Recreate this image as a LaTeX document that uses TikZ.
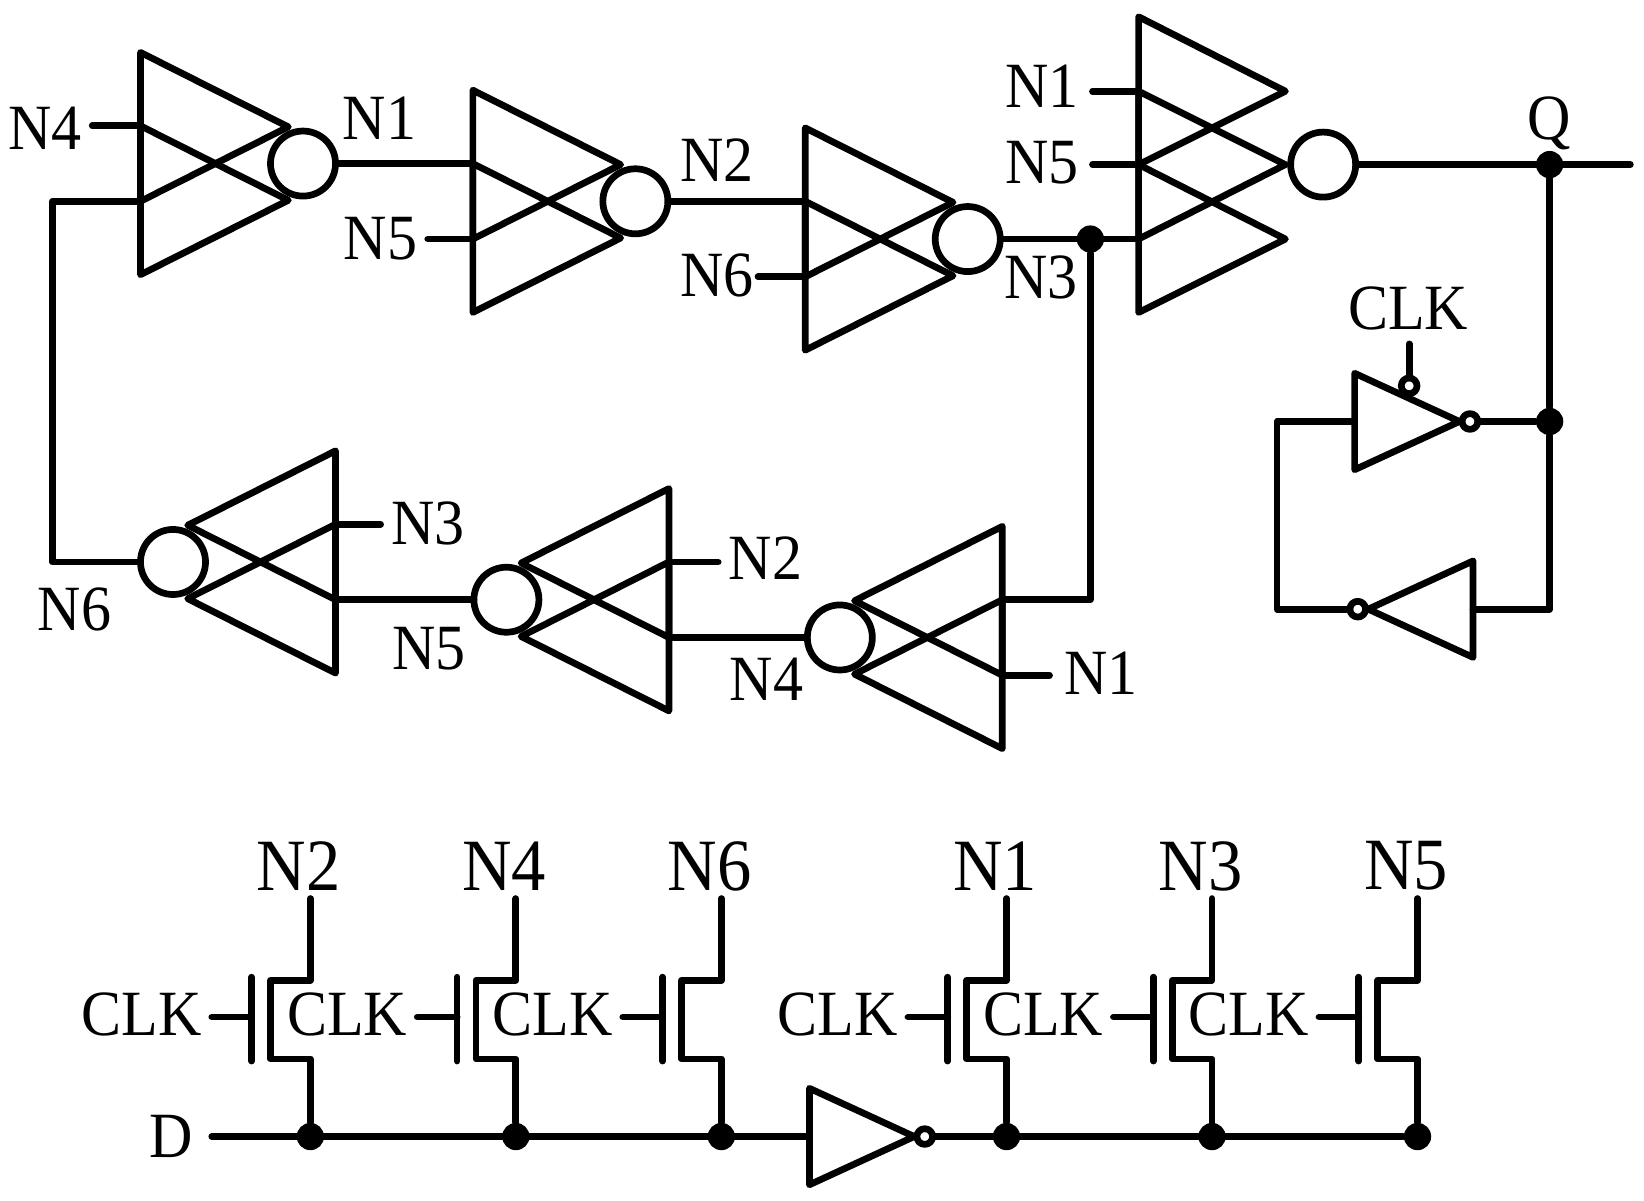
\documentclass[tikz,border=0pt]{standalone}
\usepackage{fontspec}
\setmainfont[FakeStretch=0.93]{Liberation Serif}
\begin{document}
\begin{tikzpicture}[x=0.01cm, y=-0.01cm, line join=round, line cap=round,
		wire/.style={line width=0.064cm},
		lab/.style={font=\fontsize{17.5}{20}\selectfont, inner sep=0.1cm, outer sep=0pt},
		biglab/.style={font=\fontsize{20}{22}\selectfont, inner sep=0pt, outer sep=0pt},
		bigbub/.style={circle, draw, line width=0.064cm, inner sep=0pt, minimum size=0.62cm, outer sep=0pt},
		smallbub/.style={circle, draw, fill=white, line width=0.064cm, inner sep=0pt, minimum size=0.15cm, outer sep=0pt},
		jdot/.style={circle, fill=black, inner sep=0pt, minimum size=0.26cm}]
	\useasboundingbox (0,0) rectangle (1568,1145);
	\foreach \g/\x/\tp/\s in {A/134/50/1,B/451/86/1,C/768/122/1,D/320/430/-1,E/638/466/-1,F/956/502/-1}{
		\begin{scope}[shift={(\x,\tp)}, xscale=\s]
			\coordinate (\g-a) at (0,70);
			\coordinate (\g-b) at (0,142);
			\node[bigbub] (\g-o) at (155,106) {};
			\draw[wire] (0,0)--(141,71)--(\g-b)--cycle;
			\draw[wire] (\g-a)--(141,141)--(0,212)--cycle;
		\end{scope}}
	\path (1086,16) coordinate (G0)
		+(140,71) coordinate (Gt)
		+(0,71) coordinate (G-a)
		+(0,141) coordinate (G-b)
		+(140,141) coordinate (Gu)
		+(0,212) coordinate (G-c)
		+(140,212) coordinate (Gv)
		+(0,282) coordinate (Gd)
		;
	\node[bigbub] (G-o) at (1262,157) {};
	\draw[wire] (G0)--(Gt)--(G-b)--cycle;
	\draw[wire] (G-a)--(Gu)--(G-c)--cycle;
	\draw[wire] (G-b)--(Gv)--(Gd)--cycle;
	\foreach \g/\x/\y/\s in {I/1292/402/1,J/1405/581/-1,K/772/1084/1}{
		\begin{scope}[shift={(\x,\y)}, xscale=\s]
			\coordinate (\g-i) at (0,0);
			\draw[wire] (0,-46)--(100,0)--(0,46)--cycle;
			\node[smallbub] (\g-o) at (110,0) {};
		\end{scope}}
	\foreach \n/\xx/\yy/\l in {a/43/122/N4,b/362/113/N1,c/363/228/N5,d/684/153/N2,e/684/263/N6,f/993/265/N3,
		g/994/82/N1,h/994/155/N5,k/408/499/N3,m/730/532/N2,p/1050/642/N1,q/71/581/N6,r/409/619/N5,s/731/648/N4}{
		\node[lab] (l\n) at (\xx,\yy) {\l};}
	\node[lab] (lQ) at (1478,118) {Q};
	\node[lab] (lCLK) at (1343,294) {CLK};
	\node[lab] (lD) at (163,1084) {D};
	\draw[wire] (A-a)--(A-a -| la.east);
	\draw[wire] (B-b)--(B-b -| lc.east);
	\draw[wire, shorten >=-0.06cm] (C-b)--(C-b -| le.east);
	\draw[wire, shorten >=0.03cm] (G-a)--(G-a -| lg.east);
	\draw[wire, shorten >=0.03cm] (G-b)--(G-b -| lh.east);
	\draw[wire] (D-a)--(D-a -| lk.west);
	\draw[wire] (E-a)--(E-a -| lm.west);
	\draw[wire, shorten >=0.04cm] (F-b)--(F-b -| lp.west);
	\draw[wire] (A-o)--(B-a);
	\draw[wire] (B-o)--(C-a);
	\draw[wire] (C-o)--(G-c);
	\draw[wire] (D-b)--(E-o);
	\draw[wire] (E-b)--(F-o);
	\draw[wire] (A-b)-|(50,536)--(D-o);
	\node[jdot] (n3) at (1040,228) {};
	\draw[wire] (n3)|-(F-a);
	\node[jdot] (nq) at (1478,157) {};
	\node[jdot] (nfb) at (1478,402) {};
	\coordinate (qout) at (1555,157);
	\draw[wire] (G-o)--(qout);
	\draw[wire] (I-o)--(nfb);
	\draw[wire] (nq)--(nfb);
	\draw[wire] (nfb)|-(J-i);
	\draw[wire] (I-i)-|(1218,581)--(J-o);
	\node[smallbub] (ckb) at (1344,368) {};
	\coordinate (ck) at (1344,328);
	\draw[wire] (ck)--(ckb);
	\coordinate (din) at (202,1084);
	\foreach \n/\x/\l in {T1/296/N2,T2/492/N4,T3/688/N6,T4/960/N1,T5/1156/N3,T6/1352/N5}{
		\begin{scope}[shift={(\x,0)}]
			\coordinate (\n-d) at (0,857);
			\coordinate (\n-g) at (-94,970);
			\node[jdot] (\n-j) at (0,1084) {};
			\node[biglab] (\n-t) at (-11,826) {\l};
			\node[lab] (\n-c) at (-161,968) {CLK};
			\draw[wire] (\n-d)|-(-38,935)--(-38,1010)-|(\n-j);
			\draw[wire] (-56,932)--(-56,1012);
			\draw[wire] (\n-g)--(-56,970);
		\end{scope}}
	\draw[wire] (din)--(K-i);
	\draw[wire] (K-o)--(T6-j);
\end{tikzpicture}
\end{document}
